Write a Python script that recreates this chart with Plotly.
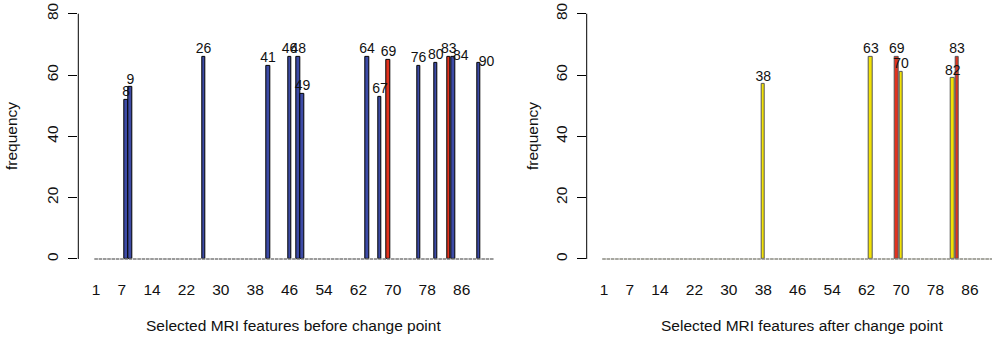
import plotly.graph_objects as go

# ---- data ----
n_features = 93
features_before = [8, 9, 26, 41, 46, 48, 49, 64, 67, 69, 76, 80, 83, 84, 90]
freq_before = [52, 56, 66, 63, 66, 66, 54, 66, 53, 65, 63, 64, 66, 66, 64]
features_after = [38, 63, 69, 70, 82, 83]
freq_after = [57, 66, 66, 61, 59, 66]
common_features = [69, 83]
x_tick_vals = [1, 7, 14, 22, 30, 38, 46, 54, 62, 70, 78, 86]
y_tick_vals = [0, 20, 40, 60, 80]

# label placement style (labels shifted right to avoid overlap in the original)
label_shift_right_before = {84, 90}

FONT = "Liberation Sans, Arial, Helvetica, sans-serif"
BLUE = "#3D4BA6"
RED = "#E2321E"
YELLOW = "#F2E205"
BAR_W = 1 / 1.2
FS = 15.5

fig = go.Figure()

def baseline(xa, ya, color):
    xs, ys = [], []
    for i in range(1, n_features + 1):
        xs += [i - BAR_W / 2, i + BAR_W / 2, None]
        ys += [0, 0, None]
    return go.Scatter(x=xs, y=ys, mode="lines", line=dict(color=color, width=1.6),
                      xaxis=xa, yaxis=ya, hoverinfo="skip", showlegend=False)

fig.add_trace(baseline("x", "y", "#7a7a7a"))
fig.add_trace(baseline("x2", "y2", "#8a8a80"))

fig.add_trace(go.Bar(
    x=features_before, y=freq_before, width=BAR_W,
    marker=dict(color=[RED if f in common_features else BLUE for f in features_before],
                line=dict(color="#000000", width=1)),
    xaxis="x", yaxis="y", showlegend=False))

fig.add_trace(go.Scatter(
    x=features_before, y=freq_before, mode="text",
    text=[str(f) for f in features_before],
    textposition=["middle right" if f in label_shift_right_before else "top center"
                  for f in features_before],
    textfont=dict(family=FONT, size=14, color="#111111"),
    cliponaxis=False, xaxis="x", yaxis="y", showlegend=False, hoverinfo="skip"))

fig.add_trace(go.Bar(
    x=features_after, y=freq_after, width=BAR_W,
    marker=dict(color=[RED if f in common_features else YELLOW for f in features_after],
                line=dict(color="#555555", width=1)),
    xaxis="x2", yaxis="y2", showlegend=False))

fig.add_trace(go.Scatter(
    x=features_after, y=freq_after, mode="text",
    text=[str(f) for f in features_after], textposition="top center",
    textfont=dict(family=FONT, size=14, color="#111111"),
    cliponaxis=False, xaxis="x2", yaxis="y2", showlegend=False, hoverinfo="skip"))

xcommon = dict(showgrid=False, zeroline=False, showline=False, ticks="",
               tickmode="array", tickvals=x_tick_vals, ticktext=[str(v) for v in x_tick_vals],
               tickfont=dict(family=FONT, size=FS, color="#111111"),
               ticklabelstandoff=10, automargin=False)
ycommon = dict(showgrid=False, zeroline=False, showline=False, ticks="outside",
               ticklen=9, tickwidth=1, tickcolor="#000000",
               tickmode="array", tickvals=y_tick_vals, ticktext=[str(v) for v in y_tick_vals],
               tickangle=-90, tickfont=dict(family=FONT, size=FS, color="#111111"),
               range=[-3.2, 83.2], domain=[0.2047, 0.9885], automargin=False,
               ticklabelstandoff=4)

fig.update_layout(
    width=992, height=338,
    margin=dict(l=0, r=0, t=0, b=0),
    paper_bgcolor="white", plot_bgcolor="white",
    font=dict(family=FONT, color="#111111"),
    bargap=0, barmode="overlay",
    xaxis=dict(domain=[78.3 / 992, 509.5 / 992], range=[-3.14, 97.13], anchor="y", **xcommon),
    yaxis=dict(anchor="x", **ycommon),
    xaxis2=dict(domain=[586.7 / 992, 1.0], range=[-3.02, 91.13], anchor="y2", **xcommon),
    yaxis2=dict(anchor="x2", **ycommon),
    shapes=[
        dict(type="line", xref="x domain", yref="y", x0=0, x1=0, y0=0, y1=80,
             line=dict(color="#000000", width=1)),
        dict(type="line", xref="x2 domain", yref="y2", x0=0, x1=0, y0=0, y1=80,
             line=dict(color="#000000", width=1)),
    ],
    annotations=[
        dict(text="Selected MRI features before change point", xref="paper", yref="paper",
             x=293.9 / 992, y=(338 - 325) / 338, xanchor="center", yanchor="middle",
             showarrow=False, font=dict(family=FONT, size=FS, color="#111111")),
        dict(text="Selected MRI features after change point", xref="paper", yref="paper",
             x=802.4 / 992, y=(338 - 325) / 338, xanchor="center", yanchor="middle",
             showarrow=False, font=dict(family=FONT, size=FS, color="#111111")),
        dict(text="frequency", xref="paper", yref="paper", textangle=-90,
             x=12 / 992, y=(338 - 136) / 338, xanchor="center", yanchor="middle",
             showarrow=False, font=dict(family=FONT, size=FS, color="#111111")),
        dict(text="frequency", xref="paper", yref="paper", textangle=-90,
             x=533 / 992, y=(338 - 136) / 338, xanchor="center", yanchor="middle",
             showarrow=False, font=dict(family=FONT, size=FS, color="#111111")),
    ],
)

fig.write_html("out.html", config={"displayModeBar": False},
               post_script="document.body.style.margin='0';")
